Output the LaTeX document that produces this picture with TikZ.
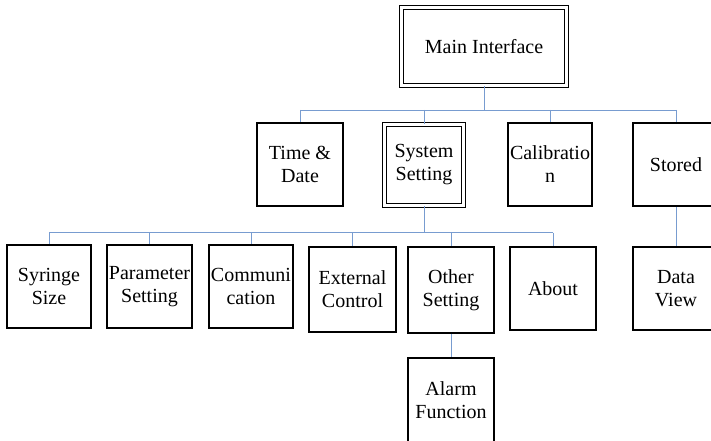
\documentclass[tikz,border=0pt]{standalone}
\usepackage{fontspec}
\setmainfont{Liberation Serif}
\definecolor{connblue}{RGB}{120,156,208}
\begin{document}
\begin{tikzpicture}[x=1pt,y=-1pt,
  box/.style={draw=black, line width=1.8pt, align=center, inner sep=0pt,
    minimum width=#1, minimum height=83pt, font=\fontsize{20}{23}\selectfont},
  box/.default=85pt,
  dbox/.style={draw=black, double=white, double distance=2.2pt, line width=1.6pt,
    align=center, inner sep=0pt, font=\fontsize{20}{23}\selectfont},
  conn/.style={draw=connblue, line width=0.9pt}]
\useasboundingbox (0,0) rectangle (711,441);
% level 0
\node[dbox, minimum width=165pt, minimum height=78pt] (main) at (484,46.5) {Main Interface};
% level 1
\node[box=86pt] (time) at (300,164.5) {Time \&\\Date};
\node[dbox, minimum width=79pt, minimum height=81pt] (sys) at (424,165) {System\\Setting};
\node[box=84pt] (calib) at (550,164.5) {Calibratio\\n};
\node[box=86pt] (stored) at (676,164.5) {Stored};
% level 2
\node[box=84pt] (syr) at (49,286.5) {Syringe\\Size};
\node[box=85pt] (param) at (149.5,286.5) {Parameter\\Setting};
\node[box=84pt] (comm) at (251,286.5) {Communi\\cation};
\node[box=87pt, minimum height=85pt] (ext) at (352.5,289.5) {External\\Control};
\node[box=86pt, minimum height=86pt] (other) at (451,290) {Other\\Setting};
\node[box=86pt] (about) at (553,288.5) {About};
\node[box=86pt] (data) at (676,288.5) {Data\\View};
% level 3
\node[box=86pt, minimum height=84pt] (alarm) at (451,400) {Alarm\\Function};
% buses
\coordinate (busA) at (0,110);
\coordinate (busB) at (0,232.5);
% connectors level 0 -> 1
\draw[conn] (main.south) -- (main.south |- busA);
\draw[conn] (busA -| time.north) -- (busA -| stored.north);
\foreach \n in {time,sys,calib,stored}
  \draw[conn] (busA -| \n.north) -- (\n.north);
% connectors System Setting -> level 2
\draw[conn] (sys.south) -- (sys.south |- busB);
\draw[conn] (busB -| syr.north) -- (busB -| about.north);
\foreach \n in {syr,param,comm,ext,other,about}
  \draw[conn] (busB -| \n.north) -- (\n.north);
% Stored -> Data View
\draw[conn] (stored.south) -- (data.north);
% Other Setting -> Alarm Function
\draw[conn] (other.south) -- (alarm.north);
\end{tikzpicture}
\end{document}
